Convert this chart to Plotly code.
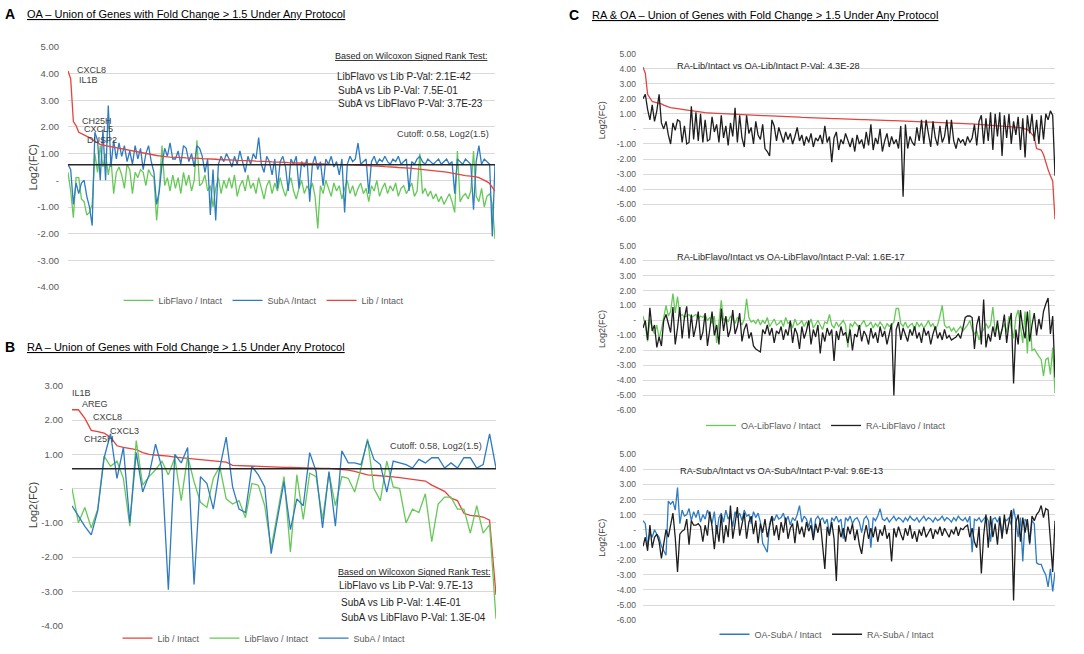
import plotly.graph_objects as go

# ---- data ----

CUTOFF = 0.58

# panel A - OA, 160 genes sorted by Lib / Intact
oa_lib = [4.10, 3.80, 2.20, 2.05, 1.80, 1.75, 1.72, 1.68, 1.60, 1.52,
          1.46, 1.40, 1.35, 1.32, 1.30, 1.28, 1.26, 1.24, 1.21, 1.19,
          1.17, 1.15, 1.14, 1.12, 1.10, 1.08, 1.06, 1.04, 1.02, 1.00,
          0.97, 0.96, 0.94, 0.93, 0.92, 0.90, 0.88, 0.88, 0.87, 0.87,
          0.86, 0.86, 0.85, 0.85, 0.84, 0.84, 0.83, 0.83, 0.82, 0.82,
          0.81, 0.81, 0.80, 0.80, 0.79, 0.79, 0.78, 0.78, 0.78, 0.77,
          0.77, 0.76, 0.76, 0.75, 0.75, 0.75, 0.74, 0.74, 0.73, 0.73,
          0.72, 0.72, 0.71, 0.71, 0.70, 0.70, 0.69, 0.69, 0.68, 0.68,
          0.67, 0.67, 0.66, 0.66, 0.65, 0.65, 0.65, 0.64, 0.64, 0.63,
          0.63, 0.63, 0.62, 0.62, 0.62, 0.61, 0.61, 0.61, 0.60, 0.60,
          0.60, 0.59, 0.59, 0.59, 0.58, 0.58, 0.58, 0.57, 0.57, 0.56,
          0.56, 0.55, 0.55, 0.54, 0.54, 0.53, 0.53, 0.52, 0.51, 0.51,
          0.50, 0.50, 0.49, 0.48, 0.48, 0.47, 0.46, 0.46, 0.45, 0.44,
          0.44, 0.43, 0.42, 0.41, 0.40, 0.39, 0.38, 0.37, 0.36, 0.35,
          0.33, 0.31, 0.29, 0.27, 0.25, 0.22, 0.20, 0.19, 0.18, 0.17,
          0.16, 0.15, 0.13, 0.10, 0.06, 0.02, -0.05, -0.12, -0.25, -0.40]

oa_suba = [0.6, 0.4, -0.9, -0.1, -0.5, -0.1, 0.0, -0.6, -1.0, -1.7,
           1.8, 1.5, 0.0, 1.9, 0.0, 2.8, 0.5, 1.5, 0.8, 1.4,
           0.9, 1.3, 0.7, 1.1, 0.6, 1.3, 0.8, 1.2, 0.4, 1.0,
           1.3, 0.7, 0.3, -0.9, -0.4, 0.6, 1.2, 0.9, 1.4, 0.8,
           0.8, 1.1, 0.6, 1.3, 1.2, 0.7, 1.0, 0.5, 1.3, 1.2,
           0.9, 0.3, 0.8, -1.3, 0.4, -1.5, 0.6, 0.9, 0.7, 1.0,
           0.8, 0.5, 0.9, 0.6, 1.1, 0.7, 0.3, 0.9, 0.6, 1.0,
           0.8, 1.6, 0.6, 0.3, 0.9, 0.7, 0.2, 0.8, -0.3, 0.7,
           0.9, 0.5, -0.4, 0.8, 0.6, 0.9, -0.3, 0.7, 0.5, 0.8,
           -0.8, 0.6, 0.9, 0.4, 0.7, -0.2, 0.8, 0.6, 0.9, 0.5,
           0.7, 0.2, 0.8, -1.2, 0.6, 0.9, 0.7, 0.8, 1.4, 0.6,
           0.7, 0.8, -0.5, 0.7, 0.9, 0.6, 0.8, 0.7, 0.9, 0.7,
           0.6, 0.8, 0.7, 0.9, 0.6, 0.7, 0.8, -0.4, 0.7, 0.6,
           0.8, 0.9, 0.7, 0.6, 0.8, 0.7, 0.6, 0.7, 0.8, 0.6,
           0.7, 0.8, 0.6, 0.7, -0.5, 0.8, 0.7, 0.6, 0.8, 0.7,
           0.6, -1.1, 0.7, 1.3, 0.6, 0.8, 0.7, 0.6, -2.1, 0.6]

oa_libflavo = [0.3, -0.4, -1.4, 0.1, 0.1, -0.7, -0.8, -1.3, -1.2, -0.9,
               1.0, 0.3, 1.3, 0.5, 1.0, 0.2, 0.8, -0.5, 0.3, 0.5,
               0.2, -0.3, 0.6, 0.4, -0.5, 0.3, 0.1, 0.4, 0.3, -0.2,
               0.4, 0.2, 0.1, -1.5, -0.3, 1.3, -0.2, 0.1, -0.4, 0.2,
               -0.3, 0.1, -0.5, 0.3, -0.2, 0.2, -0.4, 0.0, 1.5, -0.2,
               -0.1, 0.2, -0.4, -0.2, -1.0, -0.3, 0.1, -0.5, 0.0, -0.3,
               0.1, -0.3, 0.2, -0.6, -0.2, 0.0, -0.4, 0.2, -0.3, -0.1,
               -0.5, 0.1, -0.3, -0.7, -0.2, 0.0, -0.5, -0.1, -0.4, 0.1,
               -0.3, -0.6, -0.2, 0.1, -0.4, -0.7, -0.3, 0.0, -0.5, -0.2,
               -0.4, -0.1, -0.6, -1.8, -0.2, -0.5, 0.0, -0.3, -0.6, -0.1,
               -0.4, -0.2, -0.7, -0.3, 0.0, -0.5, -0.2, -0.6, -0.3, -0.1,
               -0.5, -0.3, -0.8, -0.2, -0.4, 0.0, -0.6, -0.3, -0.1, -0.5,
               -0.2, -0.4, -0.1, -0.6, -0.3, -0.2, -0.5, -0.3, -0.1, -0.6,
               -0.4, 1.0, -0.5, -0.3, -0.6, -0.4, -0.7, -0.5, -0.8, -0.6,
               -0.9, -0.7, -0.5, -0.8, -1.2, 1.1, -0.8, -0.6, -0.5, -0.7,
               -0.4, 1.1, -0.6, -0.8, -0.3, -1.0, -0.6, -0.5, -0.9, -2.2]

# panel B - RA, 67 genes sorted by Lib / Intact
ra_lib = [2.30, 2.30, 2.05, 1.70, 1.66, 1.62, 1.50, 1.25, 1.20, 1.17,
          1.14, 1.05, 1.00, 0.98, 0.97, 0.95, 0.92, 0.90, 0.88, 0.87,
          0.86, 0.84, 0.82, 0.80, 0.77, 0.68, 0.67, 0.66, 0.65, 0.65,
          0.64, 0.64, 0.63, 0.62, 0.62, 0.61, 0.61, 0.60, 0.60, 0.59,
          0.59, 0.58, 0.57, 0.54, 0.50, 0.45, 0.40, 0.39, 0.38, 0.36,
          0.34, 0.32, 0.30, 0.28, 0.26, 0.22, 0.10, 0.02, -0.08, -0.28,
          -0.35, -0.72, -0.78, -0.80, -0.83, -0.92, -3.10]

ra_libflavo = [0.0, -1.0, -0.55, -1.15, -0.6, 0.95, 0.65, 0.8, 0.3, -1.1,
               1.4, 0.1, 0.35, 0.55, 0.8, 0.4, 0.9, -0.35, 0.95, 0.2,
               -0.4, -0.55, 0.3, 0.65, -0.3, -0.45, -0.35, -0.85, 0.15, 0.1,
               -0.5, -1.75, -0.7, 0.35, -1.85, 0.4, -0.9, 0.45, 0.35, -0.9,
               0.45, -0.5, 0.35, 0.3, -0.1, 0.6, 1.45, 0.0, -0.35, 0.8,
               0.05, 0.0, -1.0, -0.6, -0.7, -0.15, -1.55, -0.45, -0.25, -0.25,
               -0.6, -0.6, -1.3, -0.5, -1.3, -1.05, -3.8]

ra_suba = [-0.5, -0.8, -1.1, -1.35, -0.65, 0.9, 1.6, 0.3, 1.2, -1.0,
           1.05, -0.1, 0.4, 1.3, 0.6, -2.95, 1.0, 0.75, 1.2, -2.8,
           0.35, 0.15, -0.6, 0.6, 1.5, 0.05, -0.6, -0.7, 0.65, 0.4,
           0.05, -1.9, -0.8, 0.2, -1.2, -0.3, -0.5, 1.05, 0.5, -1.15,
           0.5, -1.1, 1.1, 0.75, 0.75, 0.7, 1.4, 0.85, 0.7, -0.1,
           0.8, 0.75, 0.7, 0.6, 0.85, 0.75, 0.9, 0.9, 0.6, 0.75,
           0.6, 0.9, 0.9, 0.6, 0.7, 1.6, 0.6]

# panel C - RA & OA union, 180 genes sorted by OA-Lib / Intact
c_oa_lib = [4.10, 3.70, 2.30, 2.10, 1.82, 1.78, 1.75, 1.72, 1.66, 1.58,
            1.50, 1.46, 1.42, 1.39, 1.36, 1.33, 1.31, 1.29, 1.27, 1.25,
            1.23, 1.21, 1.18, 1.15, 1.12, 1.10, 1.09, 1.08, 1.07, 1.06,
            1.05, 1.04, 1.03, 1.02, 1.01, 1.00, 1.00, 0.99, 0.98, 0.97,
            0.96, 0.96, 0.95, 0.94, 0.94, 0.93, 0.92, 0.92, 0.91, 0.90,
            0.90, 0.89, 0.88, 0.88, 0.87, 0.86, 0.86, 0.85, 0.84, 0.84,
            0.83, 0.82, 0.82, 0.81, 0.80, 0.80, 0.79, 0.78, 0.78, 0.77,
            0.76, 0.76, 0.75, 0.74, 0.74, 0.73, 0.72, 0.72, 0.71, 0.70,
            0.70, 0.69, 0.69, 0.68, 0.68, 0.67, 0.67, 0.66, 0.66, 0.65,
            0.65, 0.64, 0.64, 0.63, 0.63, 0.62, 0.62, 0.61, 0.61, 0.60,
            0.60, 0.59, 0.59, 0.58, 0.58, 0.57, 0.56, 0.56, 0.55, 0.55,
            0.54, 0.54, 0.53, 0.52, 0.52, 0.51, 0.50, 0.50, 0.49, 0.48,
            0.48, 0.47, 0.47, 0.46, 0.45, 0.45, 0.44, 0.43, 0.43, 0.42,
            0.41, 0.41, 0.40, 0.39, 0.39, 0.38, 0.37, 0.37, 0.36, 0.35,
            0.35, 0.34, 0.33, 0.33, 0.32, 0.31, 0.31, 0.30, 0.29, 0.28,
            0.27, 0.26, 0.25, 0.24, 0.23, 0.22, 0.21, 0.20, 0.19, 0.18,
            0.16, 0.14, 0.12, 0.10, 0.08, 0.05, 0.02, -0.05, -0.15, -0.35,
            -0.55, -1.30, -1.35, -1.40, -1.70, -2.30, -2.70, -3.10, -3.45, -6.00]

c_ra_lib = [2.0, 2.3, 1.3, 0.6, 1.6, 0.5, 1.2, 2.3, 0.4, 0.0,
            0.5, -0.4, -1.0, 0.4, -0.1, 0.6, 0.5, -0.9, 0.2, -1.0,
            -0.9, 1.5, -0.7, 1.1, -0.8, 1.0, -0.9, 0.6, -0.8, -0.7,
            0.8, -0.2, 0.3, -0.9, 0.9, -0.6, 0.2, -1.1, 0.4, -0.5,
            1.4, -0.9, 0.9, -0.6, -1.2, 0.9, -0.3, 0.1, -1.0, 0.5,
            -0.4, -0.7, 0.3, -1.3, -1.5, -1.8, 0.6, 0.2, -0.8, 0.1,
            -0.4, -0.9, -0.2, -0.7, -0.3, -1.0, -0.5, 0.1, -0.8, -0.4,
            -1.1, -0.5, -0.9, -0.3, -1.2, -0.6, -0.8, -0.4, -1.0, 0.2,
            -0.9, -0.5, -2.2, -0.6, -0.2, -1.4, -0.7, -1.0, -0.3, -0.8,
            -1.2, -0.6, -1.5, -0.4, -1.0, -0.7, -1.3, -0.2, -1.1, 0.3,
            -1.4, -0.6, -1.0, 0.0, -1.5, -0.8, -0.3, -1.2, -0.5, -1.0,
            -0.7, -1.3, 0.2, -4.5, 0.3, -1.3, -0.5, -0.9, -1.1, 0.1,
            -0.8, 0.6, -1.0, 0.6, -0.4, -1.2, 0.5, -0.6, -1.1, 0.2,
            -0.9, -0.5, 0.6, -1.0, 0.6, -0.8, -1.3, -0.6, -0.9, -0.7,
            -1.1, -0.5, -0.9, -0.6, 0.3, -1.1, 0.5, 0.9, -1.0, 0.7,
            -0.8, 1.1, -1.4, 1.0, -0.5, 1.1, -1.8, 0.9, -0.6, 1.0,
            -1.0, 0.5, -0.4, 0.8, -1.4, 0.7, -1.9, 0.9, -0.3, 1.0,
            -0.8, 0.6, -1.0, 0.9, -0.7, 1.0, 0.6, 1.2, 0.9, -3.1]

c_oa_libflavo = [0.3, -0.3, -1.4, 0.1, -0.5, -0.9, -0.3, -1.2, -0.6, 0.2,
                 1.0, 0.3, 0.6, 1.8, 0.5, 1.6, 0.3, 0.4, 0.2, 0.3,
                 0.4, 0.2, 0.3, 0.4, 0.1, 0.3, 0.2, 0.4, 0.0, 0.2,
                 -0.2, 0.3, -1.5, 0.1, 1.35, 0.0, 0.2, -0.1, 0.3, 0.1,
                 -0.2, 0.2, 0.0, -0.3, 0.1, 1.45, 0.2, -0.1, 0.0, -0.2,
                 0.1, -0.3, 0.0, -0.2, 0.2, -0.4, -0.1, 0.1, -0.3, -0.2,
                 0.0, -0.4, 0.2, -0.2, -0.1, -0.5, 0.1, -0.3, -0.2, 0.0,
                 -0.4, -0.1, -0.3, 0.1, -0.5, -0.2, 0.0, -0.3, -0.6, -0.1,
                 -0.2, 0.4, -0.3, -0.5, -0.1, -0.4, -0.2, 0.0, -0.3, -1.8,
                 -0.2, -0.4, -0.1, -0.3, -0.5, -0.2, 0.0, -0.4, -0.3, -0.1,
                 -0.5, -0.2, -0.4, -0.1, -0.3, -0.6, -0.2, -0.4, -0.3, -0.1,
                 0.8, 0.8, -0.2, -0.4, -0.1, -0.5, -0.3, -0.2, -0.6, -0.1,
                 -0.4, -0.2, -0.5, -0.3, 0.0, -0.4, -0.2, -0.6, -0.3, 0.3,
                 1.0, -0.3, -0.5, -0.4, -0.7, -0.5, -0.8, -0.6, -0.4, -0.7,
                 -0.5, -0.3, 0.0, -0.6, -0.9, -0.7, -1.3, -0.8, -0.6, -0.2,
                 -0.5, -0.3, 0.9, -0.7, -0.4, -1.0, -0.6, -0.2, -0.8, 0.3,
                 -0.5, -1.2, 0.2, 0.7, -0.4, -1.5, 0.6, -2.2, 0.7, -2.0,
                 -1.9, -2.2, -2.4, -2.6, -3.7, -2.6, -2.5, -3.6, -1.8, -4.85]

c_ra_libflavo = [-0.5, 0.0, -1.3, 0.85, -0.7, -0.3, -1.8, -1.1, -1.7, 0.0,
                 0.4, -0.3, -0.8, 0.9, -1.6, -0.5, 0.9, -1.2, 0.2, 0.95,
                 -1.2, 0.4, -1.1, -0.4, 0.6, -1.3, -0.8, 0.5, -1.7, -0.6,
                 0.6, -1.0, -0.3, -1.6, 0.8, -0.7, 0.3, -1.1, -0.6, 0.7,
                 -0.9, -0.4, 0.5, -1.4, -0.6, -0.2, -1.2, -0.8, -1.7, -1.9,
                 -2.0, -2.1, -0.6, -0.9, -0.3, -1.0, -0.5, -1.5, -0.7, -0.9,
                 -0.4, -1.3, -0.6, -1.0, 0.0, -1.5, -0.5, -0.9, -1.9, -0.4,
                 -1.2, -0.7, 0.0, -1.6, -0.6, -1.1, -0.3, -2.2, -0.8, -1.4,
                 -0.5, -1.0, -0.6, -2.7, -0.7, -1.3, -0.4, -1.0, -0.8, -1.5,
                 -0.6, -2.0, -0.9, -1.1, -0.3, -1.4, -0.7, -1.0, -1.6, -0.5,
                 -1.2, -0.8, -1.5, -0.4, -1.1, -0.7, -1.6, -0.9, -0.2, -5.0,
                 -0.6, -0.1, -1.3, -0.5, -0.9, -1.4, -0.6, -1.0, -0.4, -1.2,
                 -0.8, -1.5, -0.5, -1.0, -0.7, -1.6, -0.9, -0.4, -1.2, -0.8,
                 -1.3, -0.6, -1.2, -1.0, -1.3, -1.2, -1.1, -0.9, -1.2, -0.5,
                 0.2, 0.3, 0.3, 0.2, -1.9, -0.3, 0.3, -1.6, 1.4, -1.8,
                 -0.9, -1.4, -0.4, -1.1, 0.0, -1.3, -0.6, 0.4, -1.5, -0.2,
                 0.5, -4.2, -0.6, -1.6, 0.7, -0.5, -1.2, 0.6, -1.4, -0.3,
                 0.5, -1.0, 0.1, -0.6, 0.6, 1.1, 1.5, -0.9, 0.3, -3.8]

c_oa_suba = [0.6, 0.4, -1.1, -0.2, -0.5, 0.0, -0.3, -0.5, -1.1, -1.4,
             -1.7, 1.9, 1.7, 1.9, 1.3, 2.8, 0.4, 1.3, 0.9, 1.0,
             1.4, 0.6, 1.2, 0.8, 1.3, 0.5, 1.0, 0.7, 1.3, 0.9,
             0.4, 1.2, -0.3, 0.8, 1.1, 0.5, 1.3, 0.7, 1.0, 0.2,
             1.2, 0.8, 1.1, 0.6, 1.3, 0.9, 1.0, 0.4, 1.2, 0.8,
             1.1, 0.5, -0.9, -1.2, -1.5, 0.4, 0.9, 0.6, 1.0, 0.7,
             0.8, 1.1, 0.5, 0.9, 0.3, 0.8, 0.6, 1.0, 1.6, 0.5,
             0.9, 0.7, 0.2, 0.8, -0.5, 0.7, 0.9, 0.6, 0.8, 0.4,
             0.7, -0.3, 0.8, 0.6, 0.9, 0.5, 0.7, -0.6, 0.8, 0.6,
             0.9, 0.4, 0.7, 0.8, 0.5, -0.2, 0.7, 0.9, 0.6, -1.2,
             0.8, 0.6, 0.9, 1.4, 0.7, 0.6, 0.8, 0.5, 0.7, 0.9,
             0.6, 0.8, 0.7, 0.5, 0.8, 0.6, 0.9, 0.7, 0.6, 0.8,
             0.5, 0.7, 0.9, 0.6, 0.8, 0.7, 0.5, 0.8, 0.6, 0.7,
             0.9, 0.6, 0.8, 0.7, 0.5, 0.8, 0.6, 0.9, 0.7, 0.6,
             0.8, 0.5, 0.9, -1.5, 0.7, 0.6, 0.8, 0.5, 0.7, 0.9,
             0.6, -0.8, 0.7, 0.8, 0.5, 0.9, -0.4, 0.7, 0.6, 0.8,
             0.3, 1.4, 0.6, -0.5, 0.8, -2.1, 0.7, 0.5, -1.0, 0.6,
             0.4, -2.2, -2.3, -2.3, -2.7, -3.0, -3.8, -2.6, -4.1, -2.8]

c_ra_suba = [-1.1, -0.5, -1.4, 0.3, -1.2, -0.5, -0.3, -0.8, -1.9, -0.9,
             0.0, -0.5, 0.3, 1.1, -0.5, -2.8, -0.3, -0.1, 0.0, 0.7,
             -1.0, 0.6, 0.3, 0.3, 0.4, 0.2, -0.8, 0.3, -0.4, 1.2,
             0.2, -1.3, 0.3, -0.8, 1.0, -0.9, 0.3, -0.5, 1.6, -0.6,
             0.4, 1.5, -0.4, 0.3, 1.1, -0.6, 0.5, 0.9, -0.3, 0.6,
             -0.9, 0.4, -0.2, 0.7, -0.5, 0.2, 0.9, -0.4, 0.3, -0.7,
             0.5, -0.2, 0.8, -0.6, 0.1, 0.4, -0.9, 0.6, -0.3, 0.2,
             -0.5, 0.5, -0.1, 0.3, -0.7, 0.4, -0.2, 0.6, -1.2, -2.6,
             0.2, -0.4, 0.5, -0.6, -3.4, 0.3, -0.5, 0.1, -0.8, 0.2,
             -0.3, 0.4, -0.7, 0.0, -1.0, -1.6, -0.4, 0.3, -0.6, 0.1,
             -0.5, 0.2, -0.8, 0.0, -0.4, 0.3, -0.6, -0.2, -2.1, 0.1,
             -0.5, 0.2, -0.3, -0.7, 0.1, -0.4, 0.3, -0.6, -0.1, -0.8,
             0.0, -0.4, 0.2, -0.5, -0.2, 0.1, -0.6, 0.0, -0.3, 0.2,
             -0.4, 0.1, -0.2, -0.5, 0.0, -0.3, 0.2, -0.4, 0.1, 0.0,
             0.2, 0.3, -0.5, 0.1, -0.8, -1.2, 0.2, -2.9, -0.4, 1.0,
             -1.2, 0.9, -0.5, 0.4, -1.0, 0.8, -0.6, 1.0, -0.3, 0.5,
             1.3, -4.7, 0.5, 1.0, -0.8, 0.8, -0.2, 0.7, -0.9, 0.9,
             0.6, 1.0, 1.2, 1.6, 0.8, 1.4, 1.3, -0.7, -2.8, 0.6]

# y tick labels (Excel accounting style, zero shown as "-")
ticks_a = [5, 4, 3, 2, 1, 0, -1, -2, -3, -4]
ticks_b = [3, 2, 1, 0, -1, -2, -3, -4]
ticks_c = [5, 4, 3, 2, 1, 0, -1, -2, -3, -4, -5, -6]


def tick_text(vals):
    return ["-" if v == 0 else "%.2f" % v for v in vals]


# ---- styling ----
FONT = "Liberation Sans, Arial, sans-serif"
RED = "#E5433D"
GREEN = "#66C957"
BLUE = "#2E7BC2"
BLACK = "#1E1E1E"
GRID = "#D9D9D9"
W, H = 1084, 654


def px(x):
    return x / W


def py(y):
    return 1 - y / H


fig = go.Figure()


def add_line(y, name, color, xa, ya, legend=None):
    fig.add_trace(go.Scatter(
        x=list(range(len(y))), y=y, mode="lines", name=name,
        line=dict(color=color, width=1.3),
        xaxis=xa, yaxis=ya,
        legend=legend, showlegend=legend is not None,
    ))


# panel A
add_line(oa_libflavo, "LibFlavo / Intact", GREEN, "x", "y", "legend")
add_line(oa_suba, "SubA /Intact", BLUE, "x", "y", "legend")
add_line(oa_lib, "Lib / Intact", RED, "x", "y", "legend")
# panel B
add_line(ra_lib, "Lib / Intact", RED, "x2", "y2", "legend2")
add_line(ra_libflavo, "LibFlavo / Intact", GREEN, "x2", "y2", "legend2")
add_line(ra_suba, "SubA / Intact", BLUE, "x2", "y2", "legend2")
# panel C
add_line(c_oa_lib, "OA-Lib / Intact", RED, "x3", "y3")
add_line(c_ra_lib, "RA-Lib / Intact", BLACK, "x3", "y3")
add_line(c_oa_libflavo, "OA-LibFlavo / Intact", GREEN, "x4", "y4", "legend3")
add_line(c_ra_libflavo, "RA-LibFlavo / Intact", BLACK, "x4", "y4", "legend3")
add_line(c_oa_suba, "OA-SubA / Intact", BLUE, "x5", "y5", "legend4")
add_line(c_ra_suba, "RA-SubA / Intact", BLACK, "x5", "y5", "legend4")


def xaxis(x0, x1, n):
    return dict(domain=[px(x0), px(x1)], range=[0, n - 1], showgrid=False,
                zeroline=False, showticklabels=False, showline=False, fixedrange=True)


def yaxis(y_top, y_bot, ticks, anchor, fs=9.5, gap=8):
    return dict(domain=[py(y_bot), py(y_top)], range=[min(ticks) - 0.02, max(ticks) + 0.02],
                tickvals=ticks, ticktext=tick_text(ticks), showgrid=True,
                gridcolor=GRID, gridwidth=1, zeroline=False, showline=False,
                ticks="", ticklabelstandoff=gap, anchor=anchor,
                tickfont=dict(family=FONT, size=fs, color="#595959"))


def legend(cx, cy):
    return dict(orientation="h", x=px(cx), y=py(cy), xanchor="center", yanchor="middle",
                font=dict(family=FONT, size=9, color="#595959"), itemwidth=30,
                bgcolor="rgba(0,0,0,0)", traceorder="normal")


fig.update_layout(
    width=W, height=H, margin=dict(l=0, r=0, t=0, b=0),
    paper_bgcolor="white", plot_bgcolor="white",
    font=dict(family=FONT, color="#262626"),
    xaxis=xaxis(68, 495, len(oa_lib)),
    yaxis=yaxis(42, 287, ticks_a, "x"),
    xaxis2=xaxis(72, 496, len(ra_lib)),
    yaxis2=yaxis(386, 631, ticks_b, "x2"),
    xaxis3=xaxis(643, 1055, len(c_oa_lib)),
    yaxis3=yaxis(49, 218, ticks_c, "x3", 8.5, 6),
    xaxis4=xaxis(643, 1055, len(c_oa_libflavo)),
    yaxis4=yaxis(244, 412, ticks_c, "x4", 8.5, 6),
    xaxis5=xaxis(643, 1055, len(c_oa_suba)),
    yaxis5=yaxis(456, 625, ticks_c, "x5", 8.5, 6),
    legend=legend(264, 300),
    legend2=legend(264, 643),
    legend3=legend(826, 427),
    legend4=legend(827, 639),
)

# cutoff lines
for xr, yr in [("x", "y"), ("x2", "y2")]:
    fig.add_shape(type="line", xref=xr + " domain", yref=yr, x0=0, x1=1,
                  y0=CUTOFF, y1=CUTOFF, line=dict(color="#262626", width=1.5))


def note(x, y, text, size=8.5, color="#262626", angle=0):
    fig.add_annotation(x=px(x), y=py(y), xref="paper", yref="paper", text=text,
                       showarrow=False, xanchor="center" if angle else "left",
                       yanchor="middle", textangle=angle, borderpad=0,
                       font=dict(family=FONT, size=size, color=color))


# panel headings
note(4, 9, "<b>A</b>", 14, "black")
note(26, 9, "<u>OA – Union of Genes with Fold Change &gt; 1.5 Under Any Protocol</u>", 11, "black")
note(4, 347, "<b>B</b>", 14, "black")
note(26, 347, "<u>RA – Union of Genes with Fold Change &gt; 1.5 Under Any Protocol</u>", 11, "black")
note(568, 10, "<b>C</b>", 14, "black")
note(591, 10, "<u>RA &amp; OA – Union of Genes with Fold Change &gt; 1.5 Under Any Protocol</u>", 11, "black")

# axis titles
note(33, 165, "Log2(FC)", 11, "#404040", -90)
note(33, 508, "Log2(FC)", 11, "#404040", -90)
note(602, 117, "Log2(FC)", 9, "#404040", -90)
note(602, 329, "Log2(FC)", 9, "#404040", -90)
note(602, 541, "Log2(FC)", 9, "#404040", -90)

# panel A notes
note(334, 52, "<u>Based on Wilcoxon Signed Rank Test:</u>", 9)
note(336, 73, "LibFlavo vs Lib P-Val: 2.1E-42", 10)
note(337, 87, "SubA vs Lib P-Val: 7.5E-01", 10)
note(337, 100, "SubA vs LibFlavo P-Val: 3.7E-23", 10)
note(396, 131, "Cutoff: 0.58, Log2(1.5)", 9.2, "#404040")
for gx, gy, g in [(76, 66, "CXCL8"), (78, 76, "IL1B"), (81, 118, "CH25H"),
                  (83, 126, "CXCL5"), (86, 137, "DUSP2")]:
    note(gx, gy, g, 9, "#404040")

# panel B notes
note(389, 448, "Cutoff: 0.58, Log2(1.5)", 9.2, "#404040")
note(337, 576, "<u>Based on Wilcoxon Signed Rank Test:</u>", 9)
note(338, 590, "LibFlavo vs Lib P-Val: 9.7E-13", 10)
note(340, 607, "SubA vs Lib P-Val: 1.4E-01", 10)
note(340, 622, "SubA vs LibFlavo P-Val: 1.3E-04", 10)
for gx, gy, g in [(71, 394, "IL1B"), (81, 405, "AREG"), (92, 418, "CXCL8"),
                  (109, 433, "CXCL3"), (83, 441, "CH25H")]:
    note(gx, gy, g, 9, "#404040")

# panel C notes
note(676, 62, "RA-Lib/Intact vs OA-Lib/Intact P-Val: 4.3E-28", 9.2)
note(676, 256, "RA-LibFlavo/Intact vs OA-LibFlavo/Intact P-Val: 1.6E-17", 9.2)
note(679, 473, "RA-SubA/Intact vs OA-SubA/Intact P-Val: 9.6E-13", 9.2)

# drop the default page margin so the figure sits at the window corner
fig.write_html("out.html", config={"displayModeBar": False},
               post_script="document.body.style.margin='0';")
